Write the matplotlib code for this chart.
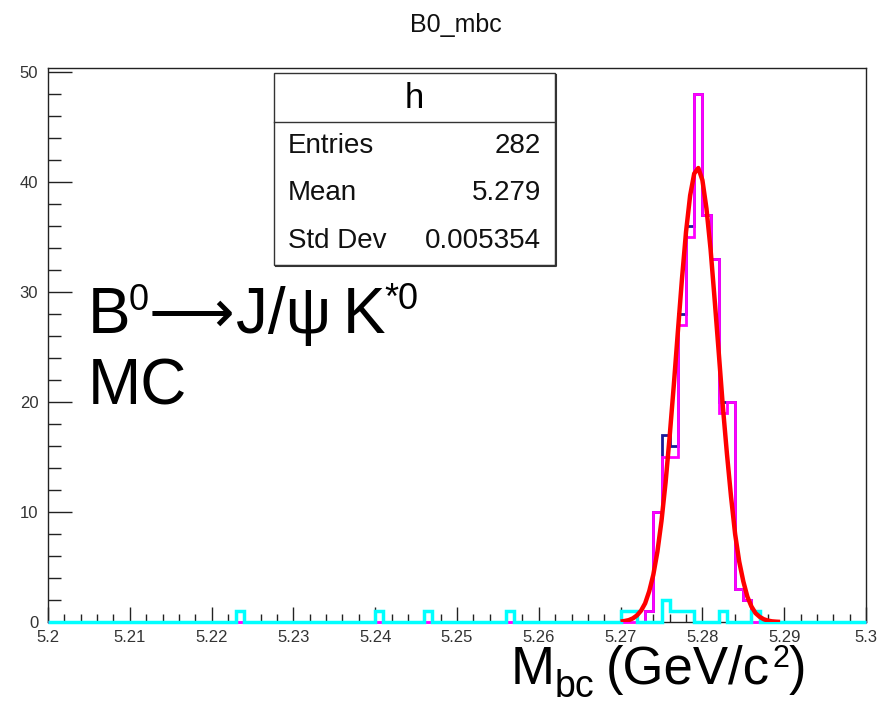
import numpy as np
import matplotlib
matplotlib.use("Agg")
import matplotlib.pyplot as plt
from matplotlib.ticker import MultipleLocator, FixedLocator, FixedFormatter
from matplotlib.patches import Rectangle

plt.rcParams['font.family'] = ['Liberation Sans', 'DejaVu Sans']

W, H = 882, 718

# ---------------- data ----------------
x_min, x_max, n_bins = 5.2, 5.3, 100
y_max = 50.4

# signal histogram (magenta): lower bin edges and counts
signal_lo = [5.273, 5.274, 5.275, 5.276, 5.277, 5.278, 5.279, 5.280,
             5.281, 5.282, 5.283, 5.284, 5.285]
signal_counts = [1, 10, 15, 15, 27, 35, 48, 37, 33, 19, 20, 3, 2]

# background histogram (cyan)
background_lo = [5.223, 5.240, 5.246, 5.256, 5.270, 5.271, 5.275, 5.276,
                 5.277, 5.278, 5.282, 5.286]
background_counts = [1, 1, 1, 1, 1, 1, 2, 1, 1, 1, 1, 1]

# fitted curve (red)
fit_x = [5.2700, 5.2705, 5.2710, 5.2715, 5.2720, 5.2725, 5.2730, 5.2735,
         5.2740, 5.2745, 5.2750, 5.2755, 5.2760, 5.2765, 5.2770, 5.2775,
         5.2780, 5.2785, 5.2790, 5.2795, 5.2800, 5.2805, 5.2810, 5.2815,
         5.2820, 5.2825, 5.2830, 5.2835, 5.2840, 5.2845, 5.2850, 5.2855,
         5.2860, 5.2865, 5.2870, 5.2875, 5.2880, 5.2885, 5.2890, 5.2895]
fit_y = [0.04, 0.09, 0.17, 0.33, 0.6, 1.03, 1.7, 2.8,
         4.3, 6.4, 9.2, 12.7, 16.9, 21.5, 26.4, 31.2,
         35.5, 38.8, 40.8, 41.3, 40.2, 37.6, 33.9, 29.3,
         24.5, 19.6, 15.3, 11.4, 8.0, 5.5, 3.7, 2.3,
         1.4, 0.8, 0.47, 0.25, 0.13, 0.06, 0.03, 0.01]

x_tick_values = [5.20, 5.21, 5.22, 5.23, 5.24, 5.25, 5.26, 5.27, 5.28, 5.29, 5.30]
x_tick_labels = ["5.2", "5.21", "5.22", "5.23", "5.24", "5.25", "5.26",
                 "5.27", "5.28", "5.29", "5.3"]
y_tick_values = [0, 10, 20, 30, 40, 50]
y_tick_labels = ["0", "10", "20", "30", "40", "50"]

stats_title = "h"
stats_names = ["Entries", "Mean", "Std Dev"]
stats_values = ["282", "5.279", "0.005354"]
plot_title = "B0_mbc"

# ---------------- build histograms ----------------
edges = np.linspace(x_min, x_max, n_bins + 1)
sig = np.zeros(n_bins)
bkg = np.zeros(n_bins)
for lo, c in zip(signal_lo, signal_counts):
    sig[int(round((lo - x_min) / 0.001))] = c
for lo, c in zip(background_lo, background_counts):
    bkg[int(round((lo - x_min) / 0.001))] = c
total = sig + bkg

# ---------------- figure ----------------
fig = plt.figure(figsize=(W / 100, H / 100), dpi=100)
ax_l, ax_r, ax_t, ax_b = 48, 866, 68, 622
ax = fig.add_axes([ax_l / W, 1 - ax_b / H, (ax_r - ax_l) / W, (ax_b - ax_t) / H])
ax.set_xlim(x_min, x_max)
ax.set_ylim(0, y_max)

ax.stairs(total, edges, color='#1a1a99', lw=2.0, clip_on=False, zorder=2)
ax.stairs(sig, edges, color='#ff00ff', lw=2.0, clip_on=False, zorder=3)
ax.stairs(bkg, edges, color='#00ffff', lw=2.5, clip_on=False, zorder=4)
ax.plot(fit_x, fit_y, color='#ff0000', lw=3.2, zorder=5, solid_capstyle='butt')

# axes styling (ROOT-like)
for side in ['top', 'right', 'left', 'bottom']:
    ax.spines[side].set_color('#222222')
    ax.spines[side].set_linewidth(1.0)
ax.xaxis.set_major_locator(FixedLocator(x_tick_values))
ax.xaxis.set_major_formatter(FixedFormatter(x_tick_labels))
ax.xaxis.set_minor_locator(MultipleLocator(0.002))
ax.yaxis.set_major_locator(FixedLocator(y_tick_values))
ax.yaxis.set_major_formatter(FixedFormatter(y_tick_labels))
ax.yaxis.set_minor_locator(MultipleLocator(2))
ax.tick_params(axis='x', which='major', direction='in', length=11, width=1.0,
               color='#222222', labelsize=12, labelcolor='#333333', pad=6,
               top=False)
ax.tick_params(axis='x', which='minor', direction='in', length=6, width=1.0,
               color='#222222', top=False)
ax.tick_params(axis='y', which='major', direction='in', length=17, width=1.0,
               color='#222222', labelsize=12, labelcolor='#333333', pad=7,
               right=False)
ax.tick_params(axis='y', which='minor', direction='in', length=9, width=1.0,
               color='#222222', right=False)


def fx(px):
    return px / W


def fy(py):
    return 1 - py / H


# title
fig.text(fx(456), fy(25), plot_title, ha='center', va='center', fontsize=18,
         color='#111111')

# stats box
bx0, by0, bx1, by1, bhead = 274, 73, 555, 265, 122
fig.patches.append(Rectangle((fx(bx0), fy(by1)), (bx1 - bx0) / W, (by1 - by0) / H,
                             transform=fig.transFigure, facecolor='white',
                             edgecolor='#333333', lw=1.0, zorder=6))
fig.lines.append(plt.Line2D([fx(bx0), fx(bx1)], [fy(bhead), fy(bhead)],
                            transform=fig.transFigure, color='#333333', lw=1.0, zorder=7))
fig.lines.append(plt.Line2D([fx(bx1 + 1), fx(bx1 + 1), fx(bx0 + 2)],
                            [fy(by0 + 2), fy(by1 + 1), fy(by1 + 1)],
                            transform=fig.transFigure, color='#333333', lw=1.5, zorder=7))
fig.text(fx((bx0 + bx1) / 2), fy(99), stats_title, ha='center', va='center',
         fontsize=25, color='black', zorder=8)
row_y = [146, 193, 241]
for name, val, yy in zip(stats_names, stats_values, row_y):
    fig.text(fx(288), fy(yy), name, ha='left', va='center', fontsize=20,
             color='#111111', zorder=8)
    fig.text(fx(541), fy(yy), val, ha='right', va='center', fontsize=20,
             color='#111111', zorder=8)

# big annotation text
big = 46
small = 26
fam = ['Liberation Sans', 'DejaVu Sans']
fig.text(fx(88), fy(333), "B", fontsize=big, va='baseline', ha='left', family=fam)
fig.text(fx(129), fy(310), "0", fontsize=small, va='baseline', ha='left', family=fam)
fig.text(fx(149), fy(332), "\u27f6", fontsize=43, va='baseline', ha='left',
         family=['DejaVu Sans'])
fig.text(fx(236), fy(333), "J/\u03c8", fontsize=big, va='baseline', ha='left', family=fam)
fig.text(fx(343), fy(333), "K", fontsize=big, va='baseline', ha='left', family=fam)
fig.text(fx(384), fy(309), "*0", fontsize=small, va='baseline', ha='left', family=fam)
fig.text(fx(88), fy(404), "MC", fontsize=big, va='baseline', ha='left', family=fam)

# x-axis label
xl = 38
fig.text(fx(511), fy(684), "M", fontsize=xl, va='baseline', ha='left', family=fam)
fig.text(fx(555), fy(697), "bc", fontsize=27, va='baseline', ha='left', family=fam)
fig.text(fx(606), fy(684), "(GeV/c", fontsize=xl, va='baseline', ha='left', family=fam)
fig.text(fx(772), fy(667), "2", fontsize=22, va='baseline', ha='left', family=fam)
fig.text(fx(789), fy(684), ")", fontsize=xl, va='baseline', ha='left', family=fam)

fig.savefig("out.png", dpi=100)
